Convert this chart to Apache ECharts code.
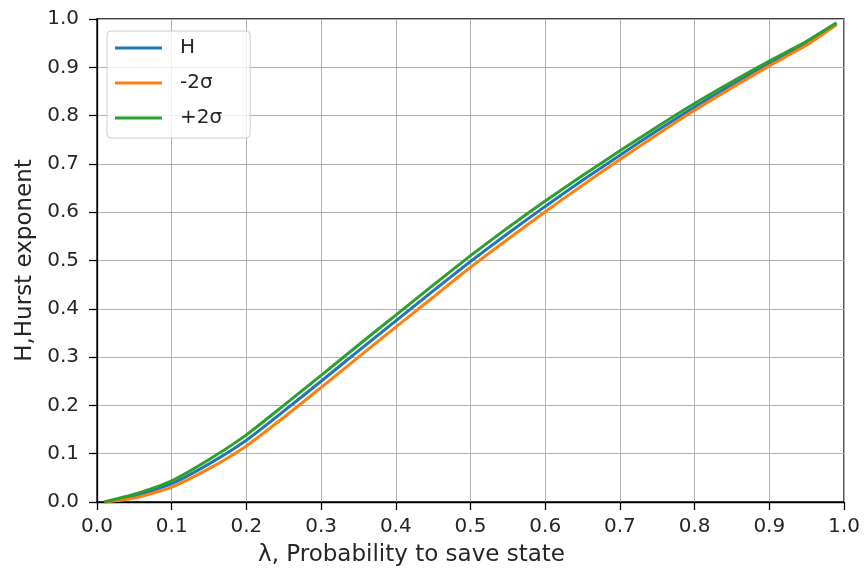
<!DOCTYPE html>
<html>
<head>
<meta charset="utf-8">
<script src="https://cdn.jsdelivr.net/npm/echarts@6/dist/echarts.min.js"></script>
<style>
  html, body { margin: 0; padding: 0; background: #fff; }
  #chart { width: 866px; height: 578px; }
</style>
</head>
<body>
<div id="chart"></div>
<script>
// values
var lambdas = [0.01, 0.05, 0.1, 0.15, 0.2, 0.25, 0.3, 0.35, 0.4, 0.45, 0.5, 0.55, 0.6, 0.65, 0.7, 0.75, 0.8, 0.85, 0.9, 0.95, 0.99];
var hurst   = [0, 0.012, 0.038, 0.079, 0.128, 0.188, 0.250, 0.313, 0.375, 0.437, 0.498, 0.556, 0.612, 0.666, 0.718, 0.769, 0.818, 0.864, 0.908, 0.950, 0.990];
var minus2s = [0, 0.008, 0.031, 0.069, 0.116, 0.175, 0.237, 0.300, 0.362, 0.424, 0.486, 0.544, 0.601, 0.656, 0.709, 0.761, 0.811, 0.858, 0.903, 0.946, 0.988];
var plus2s  = [0, 0.016, 0.044, 0.088, 0.139, 0.200, 0.262, 0.325, 0.387, 0.449, 0.510, 0.568, 0.623, 0.676, 0.727, 0.777, 0.825, 0.870, 0.913, 0.954, 0.992];
var names = ['H', '-2σ', '+2σ'];

var chart = echarts.init(document.getElementById('chart'));
var font = 'DejaVu Sans';

function pairs(ys) {
  return lambdas.map(function (x, i) { return [x, ys[i]]; });
}

var axisCommon = {
  type: 'value',
  min: 0,
  max: 1,
  interval: 0.1,
  axisLine: { show: true, lineStyle: { color: '#000', width: 1.3 } },
  axisTick: { show: true, inside: false, length: 8, lineStyle: { color: '#000', width: 1.3 } },
  splitLine: { show: true, lineStyle: { color: '#b0b0b0', width: 1 } },
  axisLabel: {
    color: '#262626',
    fontFamily: font,
    fontSize: 20,
    formatter: function (v) { return v.toFixed(1); }
  },
  nameTextStyle: { color: '#262626', fontFamily: font, fontSize: 23 }
};

var option = {
  animation: false,
  backgroundColor: '#fff',
  grid: {
    left: 97, right: 22, top: 19, bottom: 76,
    show: true, borderColor: '#000', borderWidth: 1.3, backgroundColor: 'transparent'
  },
  legend: {
    orient: 'vertical',
    left: 107,
    top: 31,
    data: names,
    icon: 'rect',
    itemWidth: 47,
    itemHeight: 3,
    itemGap: 15,
    padding: [7, 28, 10, 8],
    backgroundColor: 'rgba(255,255,255,0.8)',
    borderColor: '#cccccc',
    borderWidth: 1,
    borderRadius: 4,
    textStyle: { color: '#262626', fontFamily: font, fontSize: 20, padding: [0, 0, 0, 13], lineHeight: 20 }
  },
  xAxis: Object.assign({}, axisCommon, {
    name: 'λ, Probability to save state',
    nameLocation: 'middle',
    nameGap: 42,
    axisLabel: Object.assign({}, axisCommon.axisLabel, { margin: 15 }),
    nameTextStyle: Object.assign({}, axisCommon.nameTextStyle, { padding: [0, 118, 0, 0] })
  }),
  yAxis: Object.assign({}, axisCommon, {
    name: 'H,Hurst exponent',
    nameLocation: 'middle',
    nameGap: 57,
    axisLabel: Object.assign({}, axisCommon.axisLabel, { margin: 18 })
  }),
  series: [
    { name: names[0], type: 'line', data: pairs(hurst), showSymbol: false, symbol: 'none', smooth: 0.2,
      lineStyle: { color: '#1f77b4', width: 3 }, itemStyle: { color: '#1f77b4' } },
    { name: names[1], type: 'line', data: pairs(minus2s), showSymbol: false, symbol: 'none', smooth: 0.2,
      lineStyle: { color: '#ff7f0e', width: 3 }, itemStyle: { color: '#ff7f0e' } },
    { name: names[2], type: 'line', data: pairs(plus2s), showSymbol: false, symbol: 'none', smooth: 0.2,
      lineStyle: { color: '#2ca02c', width: 3 }, itemStyle: { color: '#2ca02c' } }
  ]
};

chart.setOption(option);
</script>
</body>
</html>
